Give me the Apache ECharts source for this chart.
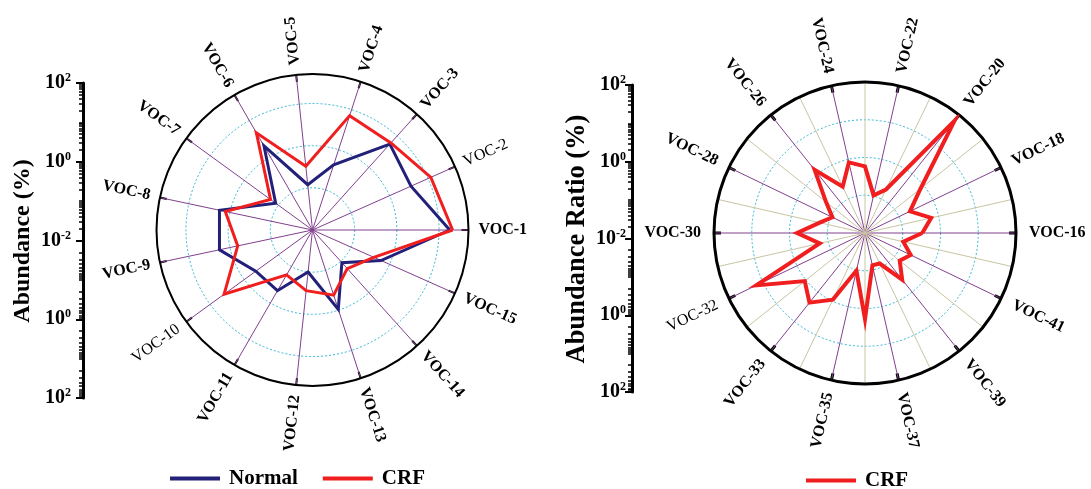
<!DOCTYPE html>
<html>
<head>
<meta charset="utf-8">
<script src="https://cdn.jsdelivr.net/npm/echarts@6/dist/echarts.min.js"></script>
<style>
html,body{margin:0;padding:0;background:#fff;}
#c{width:1091px;height:489px;}
</style>
</head>
<body>
<div id="c"></div>
<script>
// ---------------- DATA ----------------
const leftCategories = ['VOC-1','VOC-2','VOC-3','VOC-4','VOC-5','VOC-6','VOC-7','VOC-8','VOC-9','VOC-10','VOC-11','VOC-12','VOC-13','VOC-14','VOC-15'];
const normalValues = [18, 3.6, 5.5, 0.42, 0.12, 2.0, 0.12, 1.8, 1.8, 0.46, 0.46, 0.10, 0.95, 0.11, 0.60];
const crfLeftValues = [21, 11.8, 6.0, 7.1, 0.33, 4.6, 0.17, 1.3, 0.65, 3.9, 0.17, 0.28, 0.42, 0.17, 0.39];

const rightCategories = ['VOC-16','VOC-17','VOC-18','VOC-19','VOC-20','VOC-21','VOC-22','VOC-23','VOC-24','VOC-25','VOC-26','VOC-27','VOC-28','VOC-29','VOC-30','VOC-31','VOC-32','VOC-32b','VOC-33','VOC-34','VOC-35','VOC-36','VOC-37','VOC-38','VOC-39','VOC-40','VOC-41','VOC-42'];
const rightLabels = ['VOC-16','','VOC-18','','VOC-20','','VOC-22','','VOC-24','','VOC-26','','VOC-28','','VOC-30','','VOC-32','','VOC-33','','VOC-35','','VOC-37','','VOC-39','','VOC-41',''];
const crfRightValues = [0.33, 0.63, 0.21, 0.76, 63, 0.19, 0.105, 0.58, 0.83, 0.23, 1.38, 0.21, 0.091, 0.17, 0.63, 0.17, 15.8, 1.10, 2.29, 0.91, 0.105, 1.9, 0.076, 0.079, 0.38, 0.15, 0.22, 0.11];

const leftRadiusRange = [0.01, 50];
const rightRadiusRange = [0.01, 100];
const sideAxisExponents = ['2', '0', '-2', '0', '2'];   // top to bottom
const legendLeft = ['Normal', 'CRF'];
const legendRight = ['CRF'];

// ---------------- STYLE ----------------
const NAVY = '#23207a';
const RED = '#f01e1e';
const PURPLE = '#82408f';
const OLIVE = '#c9c5a3';
const CYAN = '#36b6d4';
const SERIF = '"Liberation Serif", "DejaVu Serif", serif';
const regularLabels = new Set(['VOC-2', 'VOC-10', 'VOC-32']);

// minor (log-spaced) tick positions on the mirrored side axes (log10 space, center = 10^-2)
const minorTicks = [];
for (let d = 0; d < 4; d++) {
  for (let k = 2; k <= 9; k++) {
    const v = d + Math.log10(k);
    minorTicks.push(v, -v);
  }
}
minorTicks.push(1, -1, 3, -3);

function labelRenderer(texts, gap) {
  return function (params, api) {
    const p = api.coord([api.value(0), api.value(1)]);
    const cs = params.coordSys;
    const dx = p[0] - cs.cx, dy = p[1] - cs.cy;
    const len = Math.hypot(dx, dy) || 1;
    const ux = dx / len, uy = dy / len;
    let deg = Math.atan2(-dy, dx) * 180 / Math.PI;
    if (deg < 0) deg += 360;
    const flip = deg > 100 && deg < 268;
    const rot = (flip ? deg - 180 : deg) * Math.PI / 180;
    const text = texts[params.dataIndex];
    return {
      type: 'text',
      x: p[0] + ux * gap,
      y: p[1] + uy * gap,
      rotation: rot,
      silent: true,
      style: {
        text: text,
        x: 0, y: 0,
        align: flip ? 'right' : 'left',
        verticalAlign: 'middle',
        fill: '#000',
        font: (regularLabels.has(text) ? 'normal' : 'bold') + ' 16px ' + SERIF
      }
    };
  };
}

function sideAxes(gridIndex, margin) {
  return [
    {
      type: 'value', gridIndex: gridIndex, position: 'left', min: -4, max: 4, interval: 2,
      axisLine: { show: true, lineStyle: { color: '#000', width: 3 } },
      axisTick: { show: true, length: 7, lineStyle: { color: '#000', width: 2 } },
      splitLine: { show: false },
      axisLabel: {
        margin: margin,
        formatter: function (v) {
          const i = Math.round((4 - v) / 2);
          return '{b|10}{s|' + sideAxisExponents[i] + '}';
        },
        rich: {
          b: { fontSize: 20, fontWeight: 'bold', fontFamily: SERIF, color: '#000', lineHeight: 22 },
          s: { fontSize: 12, fontWeight: 'bold', fontFamily: SERIF, color: '#000', verticalAlign: 'top', lineHeight: 12 }
        }
      }
    },
    {
      type: 'value', gridIndex: gridIndex, position: 'left', min: -4, max: 4,
      axisLine: { show: false },
      axisLabel: { show: false },
      splitLine: { show: false },
      axisTick: { show: true, length: 4, customValues: minorTicks, lineStyle: { color: '#000', width: 1.5 } }
    }
  ];
}

const chart = echarts.init(document.getElementById('c'), null, { renderer: 'canvas', width: 1091, height: 489 });

const option = {
  animation: false,
  backgroundColor: '#fff',
  polar: [
    { center: [312.5, 230], radius: 156 },
    { center: [865, 233], radius: 151 }
  ],
  angleAxis: [
    {
      // category positions 0..n-1 on a value angle axis spanning the full circle
      polarIndex: 0, type: 'value', min: 0, max: leftCategories.length, interval: 1,
      startAngle: 0, clockwise: false,
      axisLine: { show: true, lineStyle: { color: '#000', width: 2 } },
      axisTick: { show: true, inside: true, length: 7, lineStyle: { color: '#000', width: 2 } },
      axisLabel: { show: false },
      splitLine: { show: true, lineStyle: { color: PURPLE, width: 1 } }
    },
    {
      polarIndex: 1, type: 'value', min: 0, max: rightCategories.length, interval: 2,
      startAngle: 0, clockwise: false,
      axisLine: { show: true, lineStyle: { color: '#000', width: 3 } },
      axisTick: { show: true, inside: true, length: 7, lineStyle: { color: '#000', width: 3 } },
      axisLabel: { show: false },
      splitLine: { show: true, lineStyle: { color: PURPLE, width: 1 } },
      minorTick: { show: false, splitNumber: 2 },
      minorSplitLine: { show: true, lineStyle: { color: OLIVE, width: 1 } }
    }
  ],
  radiusAxis: [
    {
      polarIndex: 0, type: 'log', logBase: 10, min: leftRadiusRange[0], max: leftRadiusRange[1],
      axisLine: { show: false }, axisTick: { show: false }, axisLabel: { show: false },
      splitLine: { show: true, lineStyle: { color: CYAN, width: 1, type: [2, 2] } }
    },
    {
      polarIndex: 1, type: 'log', logBase: 10, min: rightRadiusRange[0], max: rightRadiusRange[1],
      axisLine: { show: false }, axisTick: { show: false }, axisLabel: { show: false },
      splitLine: { show: true, lineStyle: { color: CYAN, width: 1, type: [2, 2] } }
    }
  ],
  grid: [
    { left: 83, top: 83, width: 10, height: 315 },
    { left: 632, top: 85, width: 10, height: 307 }
  ],
  xAxis: [
    { type: 'value', gridIndex: 0, show: false },
    { type: 'value', gridIndex: 1, show: false }
  ],
  yAxis: [].concat(sideAxes(0, 12), sideAxes(1, 6)),
  legend: [
    {
      data: legendLeft, left: 170, top: 468, padding: 0, icon: 'rect', itemWidth: 50, itemHeight: 4, itemGap: 25,
      selectedMode: false,
      textStyle: { fontSize: 21, fontWeight: 'bold', fontFamily: SERIF, color: '#000', padding: [0, 0, 0, 4] }
    },
    {
      data: legendRight, left: 806, top: 470, padding: 0, icon: 'rect', itemWidth: 50, itemHeight: 4,
      selectedMode: false,
      textStyle: { fontSize: 21, fontWeight: 'bold', fontFamily: SERIF, color: '#000', padding: [0, 0, 0, 4] }
    }
  ],
  graphic: [
    {
      type: 'text', x: 23, y: 241, rotation: Math.PI / 2, silent: true,
      style: { text: 'Abundance (%)', font: 'bold 24px ' + SERIF, fill: '#000', align: 'center', verticalAlign: 'middle' }
    },
    {
      type: 'text', x: 577, y: 239, rotation: Math.PI / 2, silent: true,
      style: { text: 'Abundance Ratio (%)', font: 'bold 26.5px ' + SERIF, fill: '#000', align: 'center', verticalAlign: 'middle' }
    }
  ],
  series: [
    {
      name: 'Normal', type: 'line', coordinateSystem: 'polar', polarIndex: 0, clip: false,
      color: NAVY, showSymbol: false, symbol: 'none', z: 3,
      lineStyle: { color: NAVY, width: 3, join: 'miter' },
      data: normalValues.map((v, i) => [v, i]).concat([[normalValues[0], 0]])
    },
    {
      name: 'CRF', type: 'line', coordinateSystem: 'polar', polarIndex: 0, clip: false,
      color: RED, showSymbol: false, symbol: 'none', z: 4,
      lineStyle: { color: RED, width: 3, join: 'miter' },
      data: crfLeftValues.map((v, i) => [v, i]).concat([[crfLeftValues[0], 0]])
    },
    {
      name: 'CRF', type: 'line', coordinateSystem: 'polar', polarIndex: 1, clip: false,
      color: RED, showSymbol: false, symbol: 'none', z: 4,
      lineStyle: { color: RED, width: 4, join: 'miter' },
      data: crfRightValues.map((v, i) => [v, i]).concat([[crfRightValues[0], 0]])
    },
    {
      type: 'custom', coordinateSystem: 'polar', polarIndex: 0, silent: true, z: 5,
      renderItem: labelRenderer(leftCategories, 10),
      data: leftCategories.map((c, i) => [leftRadiusRange[1], i])
    },
    {
      type: 'custom', coordinateSystem: 'polar', polarIndex: 1, silent: true, z: 5,
      renderItem: labelRenderer(rightLabels, 13),
      data: rightLabels.map((c, i) => [rightRadiusRange[1], i])
    }
  ]
};
chart.setOption(option);
</script>
</body>
</html>
